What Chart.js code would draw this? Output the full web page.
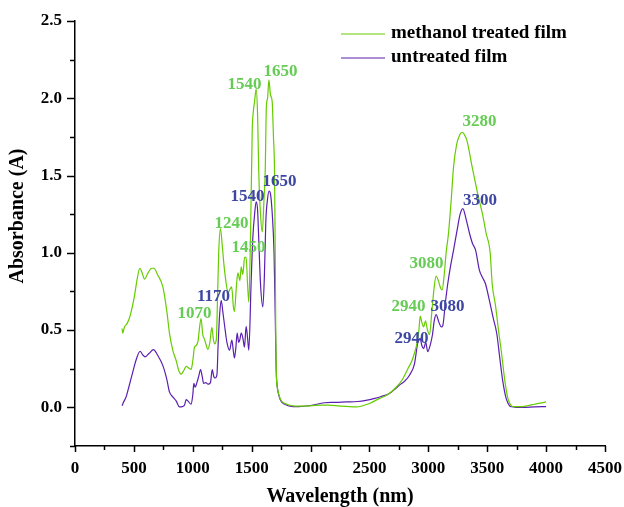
<!DOCTYPE html>
<html>
<head>
<meta charset="utf-8">
<script src="https://cdn.jsdelivr.net/npm/chart.js@4/dist/chart.umd.min.js"></script>
<style>
html,body{margin:0;padding:0;background:#fff;}
#wrap{width:624px;height:507px;position:relative;}
</style>
</head>
<body>
<div id="wrap"><canvas id="c" width="624" height="507"></canvas></div>
<script>
// ---- Data ----
const seriesNames = ["methanol treated film", "untreated film"];

const methanolX = [400,405,420,440,463,500,530,550,570,590,620,650,670,700,746,780,802,830,860,880,901,925,944,965,986,1000,1015,1030,1045,1055,1070,1085,1100,1115,1128,1145,1162,1175,1185,1200,1210,1220,1235,1250,1265,1284,1300,1313,1330,1345,1354,1370,1383,1400,1411,1425,1440,1453,1465,1476,1490,1505,1515,1525,1538,1550,1560,1575,1590,1605,1615,1625,1635,1646,1660,1674,1685,1694,1700,1705,1710,1720,1740,1760,1800,1850,1900,2000,2100,2150,2250,2387,2450,2500,2585,2650,2727,2780,2826,2860,2882,2905,2920,2931,2945,2960,2976,2990,3010,3030,3050,3066,3085,3105,3117,3135,3151,3171,3195,3214,3240,3265,3287,3310,3330,3372,3420,3460,3491,3525,3542,3570,3599,3620,3650,3675,3700,3720,3760,3800,3850,3900,3950,4000];
const methanolY = [0.51,0.48,0.52,0.54,0.58,0.70,0.84,0.90,0.87,0.83,0.87,0.90,0.90,0.86,0.78,0.62,0.48,0.37,0.30,0.24,0.215,0.24,0.265,0.255,0.245,0.30,0.39,0.40,0.43,0.50,0.575,0.47,0.44,0.40,0.375,0.42,0.517,0.44,0.41,0.44,0.70,1.00,1.157,1.05,0.92,0.80,0.74,0.76,0.78,0.65,0.62,0.78,0.87,0.82,0.91,0.86,0.97,0.97,0.80,0.68,1.10,1.80,1.92,1.98,2.06,1.90,1.53,1.25,1.135,1.35,1.53,1.95,2.00,2.12,2.02,1.98,1.75,1.53,1.00,0.45,0.20,0.12,0.06,0.035,0.02,0.01,0.008,0.01,0.015,0.015,0.008,0.003,0.012,0.025,0.058,0.08,0.13,0.18,0.25,0.30,0.35,0.42,0.50,0.59,0.55,0.52,0.56,0.51,0.47,0.62,0.78,0.85,0.82,0.77,0.76,0.86,1.00,1.125,1.35,1.556,1.70,1.76,1.78,1.76,1.72,1.556,1.38,1.25,1.125,1.00,0.80,0.66,0.48,0.36,0.17,0.06,0.015,0.005,0.005,0.005,0.012,0.02,0.028,0.035];

const untreatedX = [400,410,434,460,491,520,553,575,596,630,666,700,746,780,802,830,860,887,910,930,944,960,986,1000,1009,1020,1035,1050,1066,1080,1092,1110,1130,1150,1165,1178,1190,1205,1215,1228,1241,1255,1270,1290,1312,1332,1345,1354,1365,1377,1390,1400,1411,1425,1439,1453,1465,1476,1495,1510,1525,1538,1550,1562,1575,1595,1608,1620,1635,1648,1660,1675,1690,1700,1708,1715,1730,1750,1780,1850,1900,2000,2118,2200,2300,2400,2470,2545,2600,2670,2720,2755,2800,2840,2882,2911,2931,2945,2960,2978,2995,3015,3035,3050,3066,3090,3110,3123,3145,3165,3190,3214,3245,3270,3293,3320,3350,3375,3401,3434,3460,3485,3519,3550,3581,3605,3630,3660,3690,3710,3750,3800,3900,4000];
const untreatedY = [0.01,0.03,0.068,0.14,0.23,0.31,0.363,0.34,0.327,0.35,0.374,0.34,0.27,0.18,0.10,0.068,0.04,0.003,0.005,0.015,0.05,0.04,0.02,0.08,0.155,0.13,0.16,0.20,0.245,0.20,0.155,0.16,0.15,0.16,0.245,0.20,0.19,0.21,0.40,0.60,0.693,0.62,0.53,0.42,0.37,0.435,0.36,0.32,0.38,0.48,0.42,0.44,0.48,0.45,0.39,0.525,0.45,0.37,0.80,1.10,1.25,1.33,1.28,1.05,0.80,0.65,0.85,1.20,1.35,1.40,1.38,1.25,1.00,0.60,0.25,0.15,0.08,0.04,0.02,0.005,0.005,0.012,0.03,0.032,0.035,0.038,0.045,0.058,0.07,0.09,0.12,0.144,0.17,0.208,0.28,0.42,0.445,0.40,0.38,0.42,0.36,0.40,0.47,0.56,0.60,0.55,0.52,0.53,0.68,0.80,0.92,1.017,1.15,1.25,1.286,1.22,1.125,1.06,1.017,0.887,0.84,0.80,0.69,0.58,0.478,0.33,0.18,0.06,0.01,0.004,0.0,0.0,0.003,0.005];

const xTicks = [0,500,1000,1500,2000,2500,3000,3500,4000,4500];
const yTicks = [0.0,0.5,1.0,1.5,2.0,2.5];
const xMinorTicks = [250,750,1250,1750,2250,2750,3250,3750,4250];
const yMinorTicks = [-0.25,0.25,0.75,1.25,1.75,2.25];

// peak annotations: text, label-centre wavelength, label-centre absorbance
const methanolPeakText = ["1540","1650","1240","1450","1070","2940","3080","3280"];
const methanolPeakX    = [1439,1745,1329,1473,1015,2831,2984,3434];
const methanolPeakY    = [2.097,2.18,1.198,1.043,0.616,0.661,0.935,1.853];
const untreatedPeakText = ["1540","1650","1170","2940","3080","3300"];
const untreatedPeakX    = [1465,1736,1176,2857,3163,3438];
const untreatedPeakY    = [1.373,1.47,0.726,0.452,0.661,1.345];

// ---- styles ----
const GREEN = "#66cc00";
const PURPLE = "#5a1fb0";
const GREEN_LABEL = "#66cc55";
const BLUE_LABEL = "#3d47a3";
const FONT = "'Liberation Serif', 'Times New Roman', serif";

function pts(xs, ys){ return xs.map((x,i)=>({x:x, y:ys[i]})); }

const decor = {
  id: 'decor',
  afterDatasetsDraw(chart){
    const ctx = chart.ctx;
    const xs = chart.scales.x, ys = chart.scales.y;
    const area = chart.chartArea;
    ctx.save();
    ctx.strokeStyle = '#000';
    ctx.lineWidth = 1.5;
    yTicks.forEach(v=>{ const p = Math.round(ys.getPixelForValue(v))+0.5; ctx.beginPath(); ctx.moveTo(area.left-8,p); ctx.lineTo(area.left,p); ctx.stroke(); });
    yMinorTicks.forEach(v=>{ const p = Math.round(ys.getPixelForValue(v))+0.5; ctx.beginPath(); ctx.moveTo(area.left-5,p); ctx.lineTo(area.left,p); ctx.stroke(); });
    xTicks.forEach(v=>{ const p = Math.round(xs.getPixelForValue(v))+0.5; ctx.beginPath(); ctx.moveTo(p,area.bottom); ctx.lineTo(p,area.bottom+6); ctx.stroke(); });
    xMinorTicks.forEach(v=>{ const p = Math.round(xs.getPixelForValue(v))+0.5; ctx.beginPath(); ctx.moveTo(p,area.bottom); ctx.lineTo(p,area.bottom+4); ctx.stroke(); });

    ctx.font = "bold 17px " + FONT;
    ctx.textAlign = 'center';
    ctx.textBaseline = 'middle';
    ctx.fillStyle = GREEN_LABEL;
    methanolPeakText.forEach((t,i)=>{ ctx.fillText(t, xs.getPixelForValue(methanolPeakX[i]), ys.getPixelForValue(methanolPeakY[i])+1); });
    ctx.fillStyle = BLUE_LABEL;
    untreatedPeakText.forEach((t,i)=>{ ctx.fillText(t, xs.getPixelForValue(untreatedPeakX[i]), ys.getPixelForValue(untreatedPeakY[i])+1); });

    const cols = [GREEN, PURPLE];
    ctx.font = "bold 19px " + FONT;
    ctx.textAlign = 'left';
    ctx.textBaseline = 'middle';
    seriesNames.forEach((n,i)=>{
      const yy = 34 + i*24;
      ctx.strokeStyle = cols[i];
      ctx.lineWidth = 1.2;
      ctx.beginPath(); ctx.moveTo(341,yy); ctx.lineTo(385,yy); ctx.stroke();
      ctx.fillStyle = '#000';
      ctx.fillText(n, 391, yy-1);
    });

    ctx.font = "bold 20px " + FONT;
    ctx.fillStyle = '#000';
    ctx.textAlign = 'center';
    ctx.textBaseline = 'middle';
    ctx.fillText("Wavelength (nm)", 340, 497);
    ctx.save();
    ctx.translate(18, 216);
    ctx.rotate(-Math.PI/2);
    ctx.fillText("Absorbance (A)", 0, 0);
    ctx.restore();
    ctx.restore();
  }
};

new Chart(document.getElementById('c'), {
  type: 'line',
  data: {
    datasets: [
      { label: seriesNames[0], data: pts(methanolX, methanolY), borderColor: GREEN, borderWidth: 1.2, pointRadius: 0, fill: false, cubicInterpolationMode: 'monotone' },
      { label: seriesNames[1], data: pts(untreatedX, untreatedY), borderColor: PURPLE, borderWidth: 1.2, pointRadius: 0, fill: false, cubicInterpolationMode: 'monotone' }
    ]
  },
  options: {
    responsive: false,
    animation: false,
    devicePixelRatio: 1,
    layout: { padding: { top: 21, right: 19, left: 0, bottom: 0 } },
    plugins: { legend: { display: false }, tooltip: { enabled: false } },
    scales: {
      x: {
        type: 'linear', min: 0, max: 4500,
        afterBuildTicks: s => { s.ticks = xTicks.map(v=>({value:v})); },
        afterFit: s => { s.height = 61; s.paddingRight = 0; },
        grid: { display: false, drawTicks: false },
        border: { display: true, color: '#000', width: 1.5 },
        ticks: { color: '#000', font: { family: FONT, size: 17, weight: 'bold' }, padding: 12, maxRotation: 0, autoSkip: false, callback: v => String(v) }
      },
      y: {
        type: 'linear', min: -0.25, max: 2.5,
        afterBuildTicks: s => { s.ticks = yTicks.map(v=>({value:v})); },
        afterFit: s => { s.width = 75; s.paddingTop = 0; s.paddingBottom = 0; },
        grid: { display: false, drawTicks: false },
        border: { display: true, color: '#000', width: 1.5 },
        ticks: { color: '#000', font: { family: FONT, size: 17, weight: 'bold' }, padding: 13, autoSkip: false, callback: v => Number(v).toFixed(1) }
      }
    }
  },
  plugins: [decor]
});
</script>
</body>
</html>
